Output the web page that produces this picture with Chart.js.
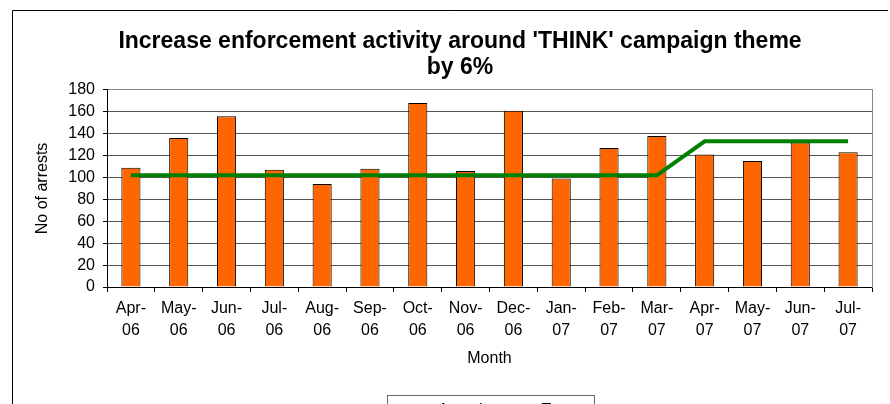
<!DOCTYPE html>
<html>
<head>
<meta charset="utf-8">
<script src="https://cdn.jsdelivr.net/npm/chart.js@4/dist/chart.umd.min.js"></script>
<style>
  html, body { margin: 0; padding: 0; background: #fff; overflow: hidden; }
  #wrap { position: relative; width: 890px; height: 429px; }
</style>
</head>
<body>
<div id="wrap"><canvas id="chart"></canvas></div>
<script>
// Données
const mois = [['Apr-', '06'], ['May-', '06'], ['Jun-', '06'], ['Jul-', '06'], ['Aug-', '06'], ['Sep-', '06'],
              ['Oct-', '06'], ['Nov-', '06'], ['Dec-', '06'], ['Jan-', '07'], ['Feb-', '07'], ['Mar-', '07'],
              ['Apr-', '07'], ['May-', '07'], ['Jun-', '07'], ['Jul-', '07']];
const arrests = [109, 136, 156, 107, 94, 108, 168, 106, 161, 99, 127, 138, 121, 115, 132, 123];
const target = [102, 102, 102, 102, 102, 102, 102, 102, 102, 102, 102, 102, 133, 133, 133, 133];
const yTicks = [0, 20, 40, 60, 80, 100, 120, 140, 160, 180];

const FONT = "'Liberation Sans', Arial, sans-serif";

// cadre noir du graphique + cadre de la légende
const frames = {
  id: 'frames',
  beforeDraw(chart) {
    const ctx = chart.ctx;
    ctx.save();
    ctx.fillStyle = '#fff';
    ctx.fillRect(0, 0, chart.width, chart.height);
    ctx.strokeStyle = '#000';
    ctx.lineWidth = 1;
    ctx.beginPath();
    ctx.moveTo(12.5, chart.height);
    ctx.lineTo(12.5, 10.5);
    ctx.lineTo(888, 10.5);
    ctx.stroke();
    ctx.restore();
  },
  afterDraw(chart) {
    const boxes = chart.legend.legendHitBoxes;
    if (!boxes || !boxes.length) return;
    const last = boxes[boxes.length - 1];
    const l = Math.round(boxes[0].left - 6) + 0.5;
    const r = Math.round(last.left + last.width + 8) + 0.5;
    const t = Math.round(boxes[0].top - 8) + 0.5;
    const ctx = chart.ctx;
    ctx.save();
    ctx.strokeStyle = '#666';
    ctx.lineWidth = 1;
    ctx.strokeRect(l, t, r - l, chart.height);
    ctx.restore();
  }
};

const ctx = document.getElementById('chart');
new Chart(ctx, {
  type: 'bar',
  data: {
    labels: mois,
    datasets: [
      {
        type: 'line',
        label: 'Target',
        data: target,
        borderColor: '#008000',
        backgroundColor: '#008000',
        borderWidth: 4,
        pointRadius: 0,
        pointStyle: 'line',
        tension: 0,
        order: 0
      },
      {
        label: 'Actual',
        data: arrests,
        backgroundColor: '#FF6600',
        borderColor: '#000',
        borderWidth: 1,
        barPercentage: 0.4,
        categoryPercentage: 1,
        pointStyle: 'rect',
        order: 1
      }
    ]
  },
  options: {
    responsive: true,
    maintainAspectRatio: false,
    animation: false,
    layout: { padding: { left: 30, right: 0, top: 0, bottom: 0 } },
    plugins: {
      tooltip: { enabled: false },
      title: {
        display: true,
        text: ["Increase enforcement activity around 'THINK' campaign theme", 'by 6%'],
        color: '#000',
        font: { family: FONT, size: 23, weight: 'bold', lineHeight: 1.15 },
        padding: { top: 28, bottom: 9 }
      },
      legend: {
        position: 'bottom',
        fullSize: false,
        reverse: true,
        labels: {
          color: '#000',
          font: { family: FONT, size: 16 },
          usePointStyle: true,
          pointStyleWidth: 37,
          boxHeight: 12,
          padding: 14
        }
      }
    },
    scales: {
      x: {
        grid: { offset: true, drawOnChartArea: false, tickLength: 5, color: '#000' },
        border: { color: '#000' },
        ticks: { color: '#000', padding: 6, maxRotation: 0, autoSkip: false,
                 font: { family: FONT, size: 16, lineHeight: 1.375 } },
        title: { display: true, text: 'Month', color: '#000',
                 font: { family: FONT, size: 16 }, padding: { top: 0, bottom: 20.4 } },
        afterFit: s => { s.height = 102; }
      },
      y: {
        min: 0,
        max: 180,
        afterBuildTicks: s => { s.ticks = yTicks.map(v => ({ value: v })); },
        grid: {
          color: c => (c.tick && c.tick.value === 180 ? '#888' : '#555'),
          tickColor: '#000',
          tickLength: 4
        },
        border: { color: '#000' },
        ticks: { color: '#000', padding: 8, autoSkip: false, font: { family: FONT, size: 16 } },
        title: { display: true, text: 'No of arrests', color: '#000',
                 font: { family: FONT, size: 16 }, padding: { top: 3.4, bottom: 0 } },
        afterFit: s => { s.width = 77; }
      },
      y2: {
        position: 'right',
        min: 0,
        max: 180,
        grid: { display: false, drawTicks: false },
        border: { display: true, color: '#888' },
        ticks: { display: false },
        afterFit: s => { s.width = 18; }
      }
    }
  },
  plugins: [frames]
});
</script>
</body>
</html>
